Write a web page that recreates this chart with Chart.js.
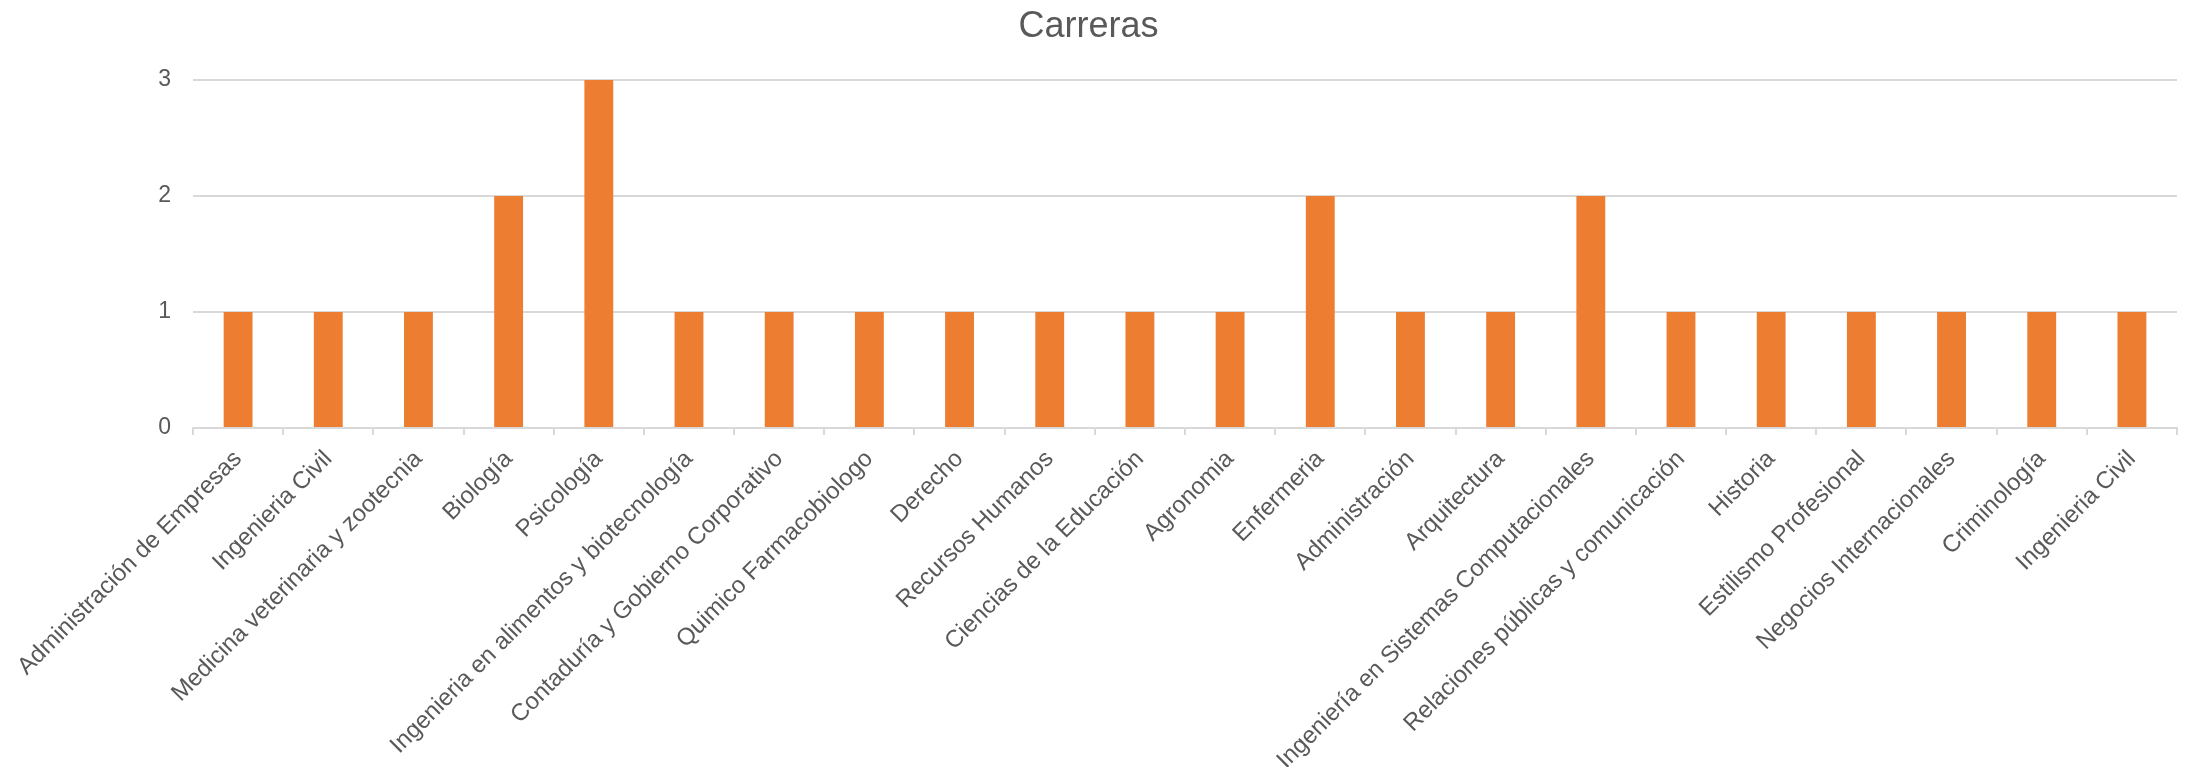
<!DOCTYPE html>
<html lang="es">
  <head>
    <meta charset="UTF-8" />
    <title>Carreras</title>
    <script src="https://cdn.jsdelivr.net/npm/chart.js"></script>
    <style>
      body { margin: 0; background: #fff; }
    </style>
  </head>
  <body>
    <canvas id="carrerasChart" width="2190" height="767"></canvas>
    <script>
      const carreras = [
        "Administración de Empresas",
        "Ingenieria Civil",
        "Medicina veterinaria y zootecnia",
        "Biología",
        "Psicología",
        "Ingenieria en alimentos y biotecnología",
        "Contaduría y Gobierno Corporativo",
        "Quimico Farmacobiologo",
        "Derecho",
        "Recursos Humanos",
        "Ciencias de la Educación",
        "Agronomia",
        "Enfermeria",
        "Administración",
        "Arquitectura",
        "Ingeniería en Sistemas Computacionales",
        "Relaciones públicas y comunicación",
        "Historia",
        "Estilismo Profesional",
        "Negocios Internacionales",
        "Criminología",
        "Ingenieria Civil",
      ];
      const cantidad = [1, 1, 1, 2, 3, 1, 1, 1, 1, 1, 1, 1, 2, 1, 1, 2, 1, 1, 1, 1, 1, 1];
      const yTicks = [0, 1, 2, 3];

      const gris = "#595959";
      const linea = "#d9d9d9";
      const fuente = "'Liberation Sans', Arial, sans-serif";

      const ctx = document.getElementById("carrerasChart").getContext("2d");

      new Chart(ctx, {
        type: "bar",
        data: {
          labels: carreras,
          datasets: [
            {
              label: "Carreras",
              data: cantidad,
              backgroundColor: "#ED7D31",
              barPercentage: 0.32,
              categoryPercentage: 1,
            },
          ],
        },
        options: {
          responsive: false,
          devicePixelRatio: 1,
          animation: false,
          layout: { padding: { left: 0, right: 13, top: 0, bottom: 0 } },
          plugins: {
            legend: { display: false },
            tooltip: { enabled: false },
            title: {
              display: true,
              text: "Carreras",
              color: gris,
              font: { family: fuente, size: 36, weight: "normal" },
              padding: { top: 5.5, bottom: 31.3 },
            },
          },
          scales: {
            x: {
              offset: true,
              border: { color: linea, width: 2 },
              grid: {
                offset: true,
                drawOnChartArea: false,
                drawTicks: true,
                tickLength: 7,
                color: linea,
                lineWidth: 2,
              },
              ticks: {
                autoSkip: false,
                minRotation: 45,
                maxRotation: 45,
                color: gris,
                padding: 10,
                font: { family: fuente, size: 24 },
              },
              afterFit: (scale) => {
                scale.height = 339;
              },
            },
            y: {
              min: 0,
              max: 3,
              border: { display: false },
              grid: { color: linea, lineWidth: 2, drawTicks: false },
              afterBuildTicks: (scale) => {
                scale.ticks = yTicks.map((v) => ({ value: v }));
              },
              ticks: {
                color: gris,
                padding: 22,
                font: { family: fuente, size: 23 },
              },
              afterFit: (scale) => {
                scale.width = 193;
              },
            },
          },
        },
      });
    </script>
  </body>
</html>
